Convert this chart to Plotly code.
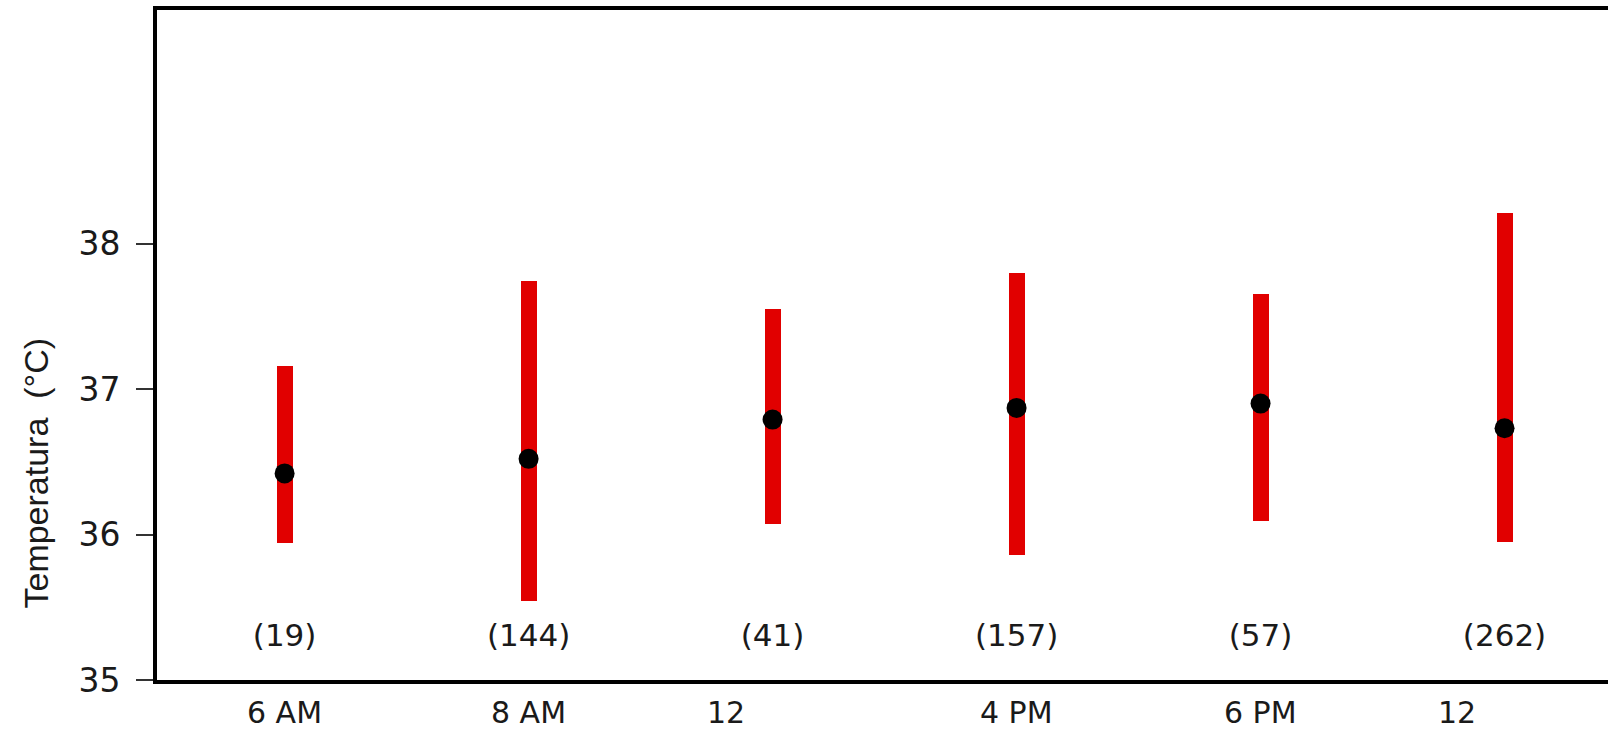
import plotly.graph_objects as go

# ---- data ----
times = ["6 AM", "8 AM", "12", "4 PM", "6 PM", "12"]
counts = ["(19)", "(144)", "(41)", "(157)", "(57)", "(262)"]
mean_temp = [36.42, 36.52, 36.79, 36.87, 36.90, 36.73]
low_temp = [35.94, 35.54, 36.07, 35.86, 36.09, 35.95]
high_temp = [37.16, 37.74, 37.55, 37.80, 37.65, 38.21]
y_ticks = [35, 36, 37, 38]

RED = "#e10000"
FONT = "DejaVu Sans, Liberation Sans, Arial, sans-serif"
TITLE_FONT = "Liberation Sans, Arial, sans-serif"
TXT = "#1a1a1a"

idx = list(range(len(times)))

fig = go.Figure()

fig.add_trace(go.Bar(
    x=idx,
    y=[h - l for h, l in zip(high_temp, low_temp)],
    base=low_temp,
    width=0.066,
    marker=dict(color=RED, line=dict(width=0)),
    hoverinfo="skip",
    showlegend=False,
))

fig.add_trace(go.Scatter(
    x=idx, y=mean_temp, mode="markers",
    marker=dict(color="black", size=20, symbol="circle", line=dict(width=0)),
    showlegend=False,
))

LABEL_Y = 35.29
fig.add_trace(go.Scatter(
    x=idx, y=[LABEL_Y] * len(idx), mode="text",
    text=counts, textposition="middle center",
    textfont=dict(family=FONT, size=31, color=TXT),
    showlegend=False, hoverinfo="skip",
))

annotations = []
for i, t in enumerate(times):
    shift = 0
    if t == "12":
        shift = -47 if i < 4 else -48
    annotations.append(dict(
        x=i, y=0, xref="x", yref="paper", text=t, showarrow=False,
        xanchor="center", yanchor="middle", yshift=-32, xshift=shift,
        font=dict(family=FONT, size=30, color=TXT),
    ))

annotations.append(dict(
    x=-0.0833, y=36.42, xref="paper", yref="y",
    text="Temperatura  (°C)", textangle=-90, showarrow=False,
    xanchor="center", yanchor="middle",
    font=dict(family=TITLE_FONT, size=34, color=TXT),
))

fig.update_layout(
    width=1608, height=732,
    margin=dict(l=157, r=0, t=10, b=52),
    paper_bgcolor="white", plot_bgcolor="white",
    annotations=annotations,
    bargap=0,
)

fig.update_xaxes(
    range=[-0.523, 5.424], showgrid=False, zeroline=False,
    showline=True, linecolor="black", linewidth=4, mirror=True,
    showticklabels=False, ticks="",
)
fig.update_yaxes(
    range=[35, 39.605], showgrid=False, zeroline=False,
    showline=True, linecolor="black", linewidth=4, mirror=False,
    tickvals=y_ticks, ticktext=[str(v) for v in y_ticks],
    ticks="outside", ticklen=17, tickwidth=2, tickcolor="#333",
    ticklabelstandoff=9,
    tickfont=dict(family=FONT, size=33, color=TXT),
)

fig.write_html(
    "out.html",
    config={"displayModeBar": False},
    post_script="document.body.style.margin='0';document.body.style.overflow='hidden';",
)
